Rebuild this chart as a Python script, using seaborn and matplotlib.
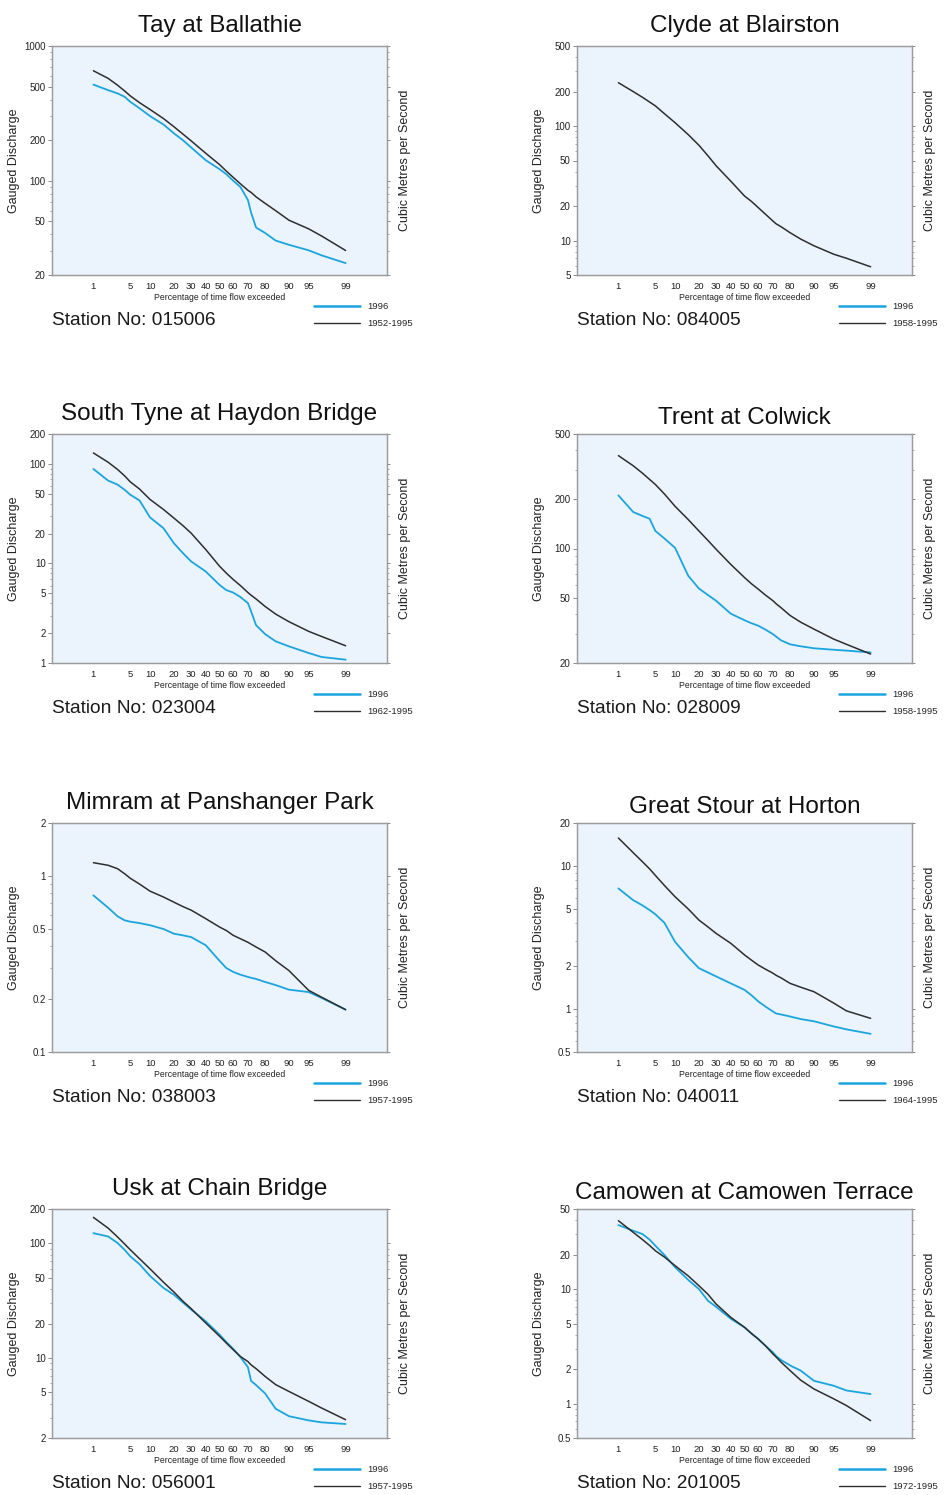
import numpy as np
import pandas as pd
import matplotlib
matplotlib.use("Agg")
import matplotlib.pyplot as plt
import seaborn as sns
from statistics import NormalDist
from matplotlib.lines import Line2D
from matplotlib.ticker import LogLocator, NullFormatter, FixedLocator, FixedFormatter

# ---------------- data ----------------
PCT = [1, 2, 3, 4, 5, 7, 10, 15, 20, 25, 30, 40, 50, 55, 60, 65, 70, 72, 75, 80, 85, 90, 95, 97, 99]
X_TICKS = [1, 5, 10, 20, 30, 40, 50, 60, 70, 80, 90, 95, 99]
X_TICK_LABELS = ["1", "5", "10", "20", "30", "40", "50", "60", "70", "80", "90", "95", "99"]

TITLES = ["Tay at Ballathie", "Clyde at Blairston", "South Tyne at Haydon Bridge", "Trent at Colwick",
          "Mimram at Panshanger Park", "Great Stour at Horton", "Usk at Chain Bridge",
          "Camowen at Camowen Terrace"]
STATIONS = ["015006", "084005", "023004", "028009", "038003", "040011", "056001", "201005"]
PERIODS = ["1952-1995", "1958-1995", "1962-1995", "1958-1995", "1957-1995", "1964-1995",
           "1957-1995", "1972-1995"]
YEAR_LABEL = "1996"

TAY_1996 = [517, 470, 445, 420, 385, 345, 302, 262, 225, 200, 177, 142, 122, 112, 100, 90, 72, 58, 45, 41, 36, 33.5, 30.5, 28, 24.5]
TAY_PERIOD = [655, 575, 512, 464, 426, 380, 338, 290, 252, 222, 198, 160, 132, 118, 106, 95, 85, 82, 76, 68, 60, 51, 44, 39, 30.4]

CLYDE_1996 = None
CLYDE_PERIOD = [239, 200, 178, 162, 150, 128, 107, 84, 68, 55, 45, 33, 24.5, 22, 19.4, 17, 14.8, 14, 13.2, 11.7, 10.3, 9.0, 7.6, 7.0, 5.9]

TYNE_1996 = [89, 68, 62, 55, 49, 43, 29, 22.7, 16, 12.7, 10.5, 8.3, 6.1, 5.4, 5.1, 4.6, 4.0, 3.3, 2.4, 1.95, 1.65, 1.47, 1.26, 1.15, 1.08]
TYNE_PERIOD = [129, 104, 88, 76, 66, 56, 44, 35, 28.6, 24, 20.2, 13.8, 9.4, 8.0, 6.9, 6.0, 5.1, 4.8, 4.4, 3.7, 3.1, 2.6, 2.08, 1.85, 1.49]

TRENT_1996 = [211, 167, 158, 152, 128, 115, 101, 68, 57, 52, 48, 40, 36.5, 35, 33.8, 32, 30, 29, 27.5, 26, 25.3, 24.6, 24.1, 23.8, 23.2]
TRENT_PERIOD = [369, 320, 288, 264, 246, 215, 181, 150, 128, 112, 99, 80, 66.5, 61, 56.5, 52, 48, 46, 43.5, 39, 35.5, 32.2, 28, 26, 22.7]

MIMRAM_1996 = [0.776, 0.66, 0.59, 0.56, 0.55, 0.54, 0.525, 0.50, 0.47, 0.46, 0.45, 0.404, 0.33, 0.30, 0.285, 0.275, 0.267, 0.264, 0.26, 0.25, 0.24, 0.226, 0.219, 0.203, 0.174]
MIMRAM_PERIOD = [1.19, 1.15, 1.10, 1.03, 0.97, 0.90, 0.82, 0.76, 0.71, 0.67, 0.64, 0.572, 0.513, 0.49, 0.46, 0.44, 0.42, 0.41, 0.395, 0.37, 0.33, 0.29, 0.224, 0.205, 0.174]

STOUR_1996 = [6.97, 5.77, 5.3, 4.92, 4.6, 4.0, 2.95, 2.3, 1.93, 1.8, 1.69, 1.51, 1.36, 1.25, 1.13, 1.04, 0.96, 0.93, 0.915, 0.886, 0.85, 0.82, 0.755, 0.72, 0.67]
STOUR_PERIOD = [15.7, 12.4, 10.7, 9.55, 8.6, 7.3, 6.1, 5.0, 4.19, 3.75, 3.38, 2.88, 2.39, 2.2, 2.03, 1.9, 1.78, 1.72, 1.65, 1.51, 1.42, 1.32, 1.10, 0.97, 0.86]

USK_1996 = [123, 115, 101, 88, 77, 66, 52, 41, 35.7, 30.5, 26.5, 20.9, 16, 13.8, 12.0, 10.2, 8.3, 6.3, 5.8, 4.9, 3.6, 3.1, 2.85, 2.74, 2.65]
USK_PERIOD = [169, 136, 114, 99, 88, 73.6, 60, 46, 37.7, 31.3, 27, 20.2, 15.5, 13.5, 11.8, 10.3, 9.3, 8.7, 8.07, 6.9, 5.85, 5.1, 4.18, 3.66, 2.89]

CAMOWEN_1996 = [36.2, 32.3, 30.2, 27, 23.9, 19.8, 15.5, 12, 10, 7.9, 7.0, 5.5, 4.63, 4.1, 3.66, 3.2, 2.8, 2.6, 2.4, 2.15, 1.94, 1.58, 1.43, 1.3, 1.21]
CAMOWEN_PERIOD = [39.5, 31.3, 27, 24, 21.6, 19, 16, 13, 10.7, 9, 7.4, 5.66, 4.63, 4.1, 3.66, 3.2, 2.71, 2.55, 2.3, 1.94, 1.6, 1.34, 1.1, 0.96, 0.71]

SERIES_1996 = [TAY_1996, CLYDE_1996, TYNE_1996, TRENT_1996, MIMRAM_1996, STOUR_1996, USK_1996, CAMOWEN_1996]
SERIES_PERIOD = [TAY_PERIOD, CLYDE_PERIOD, TYNE_PERIOD, TRENT_PERIOD, MIMRAM_PERIOD, STOUR_PERIOD, USK_PERIOD, CAMOWEN_PERIOD]

Y_TICKS = [
    [20, 50, 100, 200, 500, 1000],
    [5, 10, 20, 50, 100, 200, 500],
    [1, 2, 5, 10, 20, 50, 100, 200],
    [20, 50, 100, 200, 500],
    [0.1, 0.2, 0.5, 1, 2],
    [0.5, 1, 2, 5, 10, 20],
    [2, 5, 10, 20, 50, 100, 200],
    [0.5, 1, 2, 5, 10, 20, 50],
]

# ---------------- style ----------------
sns.set_style("white")
plt.rcParams["font.family"] = ["Liberation Sans", "DejaVu Sans"]

CYAN = "#1BA5DF"
DARK = "#2E2E2E"
BG = "#EBF3FC"
SPINE = "#9C9C9C"

_nd = NormalDist()


def _fwd(p):
    a = np.asarray(p, dtype=float)
    c = np.clip(a / 100.0, 1e-9, 1 - 1e-9)
    if c.size == 0:
        return c
    return np.vectorize(_nd.inv_cdf, otypes=[float])(c)


def _inv(z):
    a = np.asarray(z, dtype=float)
    if a.size == 0:
        return a
    return np.vectorize(_nd.cdf, otypes=[float])(a) * 100.0


fig = plt.figure(figsize=(9.46, 14.95), dpi=100)
W, H = 946.0, 1495.0
AX_W, AX_H = 335.0, 229.0
LEFTS = [52.0, 577.0]
TOPS = [46.0, 434.0, 823.0, 1209.0]
TITLE_PADS = [10, 10, 10, 7, 10, 7, 10, 7]

for i in range(8):
    row, col = divmod(i, 2)
    left = LEFTS[col]
    top = TOPS[row]
    ax = fig.add_axes([left / W, 1 - (top + AX_H) / H, AX_W / W, AX_H / H])
    ax.set_facecolor(BG)

    frames = []
    if SERIES_1996[i] is not None:
        frames.append(pd.DataFrame({"pct": PCT, "flow": SERIES_1996[i], "series": YEAR_LABEL}))
    frames.append(pd.DataFrame({"pct": PCT, "flow": SERIES_PERIOD[i], "series": PERIODS[i]}))
    df = pd.concat(frames, ignore_index=True)

    if SERIES_1996[i] is not None:
        sns.lineplot(data=df[df["series"] == YEAR_LABEL], x="pct", y="flow", color=CYAN,
                     linewidth=1.3, estimator=None, sort=True, ax=ax, legend=False)
    sns.lineplot(data=df[df["series"] == PERIODS[i]], x="pct", y="flow", color=DARK,
                 linewidth=1.1, estimator=None, sort=True, ax=ax, legend=False)

    ax.set_xscale("function", functions=(_fwd, _inv))
    ax.set_yscale("log")
    ax.set_xlim(0.1, 99.9)
    yt = Y_TICKS[i]
    ax.set_ylim(yt[0], yt[-1])

    ax.xaxis.set_major_locator(FixedLocator(X_TICKS))
    ax.xaxis.set_major_formatter(FixedFormatter(X_TICK_LABELS))
    ax.xaxis.set_minor_locator(FixedLocator([]))
    ax.yaxis.set_major_locator(FixedLocator(yt))
    ax.yaxis.set_major_formatter(FixedFormatter(["%g" % v for v in yt]))
    ax.yaxis.set_minor_locator(LogLocator(base=10, subs=np.arange(2, 10), numticks=20))
    ax.yaxis.set_minor_formatter(NullFormatter())

    ax.tick_params(axis="x", which="both", length=0, labelsize=6.8, pad=5, colors="#222222")
    ax.tick_params(axis="y", which="major", left=True, length=3, width=0.6, color="#777777",
                   direction="out", labelsize=7, pad=1.5, labelcolor="#222222")
    ax.tick_params(axis="y", which="minor", left=True, length=1.6, width=0.5, color="#888888",
                   direction="out")

    for s in ax.spines.values():
        s.set_color(SPINE)
        s.set_linewidth(0.9)

    ax.set_xlabel("Percentage of time flow exceeded", fontsize=6.2, labelpad=1.5, color="#222222")
    ax.set_ylabel("Gauged Discharge", fontsize=9, va="center", color="#222222")
    ax.yaxis.set_label_coords(-0.113, 0.5)
    ax.set_title(TITLES[i], fontsize=17.5, pad=TITLE_PADS[i], color="#111111")

    ax2 = ax.twinx()
    ax2.set_yscale("log")
    ax2.set_ylim(yt[0], yt[-1])
    ax2.yaxis.set_major_locator(FixedLocator(yt))
    ax2.yaxis.set_major_formatter(NullFormatter())
    ax2.yaxis.set_minor_locator(LogLocator(base=10, subs=np.arange(2, 10), numticks=20))
    ax2.yaxis.set_minor_formatter(NullFormatter())
    ax2.tick_params(axis="y", which="major", right=True, length=2.5, width=0.6, color="#777777",
                    direction="out")
    ax2.tick_params(axis="y", which="minor", right=True, length=1.6, width=0.5, color="#888888",
                    direction="out")
    for s in ax2.spines.values():
        s.set_color(SPINE)
        s.set_linewidth(0.9)
    ax2.set_ylabel("Cubic Metres per Second", fontsize=9, rotation=90, va="center", color="#222222")
    ax2.yaxis.set_label_coords(1.054, 0.5)

    ax.text(0.0, -0.218, "Station No: " + STATIONS[i], transform=ax.transAxes, fontsize=13.8,
            ha="left", va="baseline", color="#1a1a1a")

    handles = [Line2D([], [], color=CYAN, linewidth=1.8), Line2D([], [], color=DARK, linewidth=1.0)]
    ax2.legend(handles, [YEAR_LABEL, PERIODS[i]], loc="upper left", bbox_to_anchor=(0.782, -0.118),
               frameon=False, fontsize=6.8, handlelength=4.9, handletextpad=0.7, labelspacing=0.85,
               borderpad=0, borderaxespad=0)

fig.savefig("out.png", dpi=100)
